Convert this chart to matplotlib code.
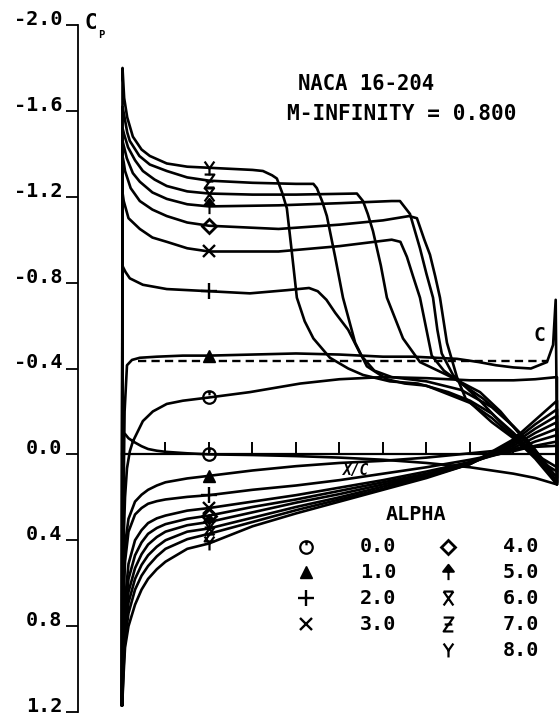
import numpy as np
import matplotlib.pyplot as plt
from matplotlib.path import Path

plt.rcParams['font.family'] = ['DejaVu Sans Mono', 'DejaVu Sans']
plt.rcParams['font.weight'] = 'bold'

W, H = 559, 718

alpha_labels = ["0.0", "1.0", "2.0", "3.0", "4.0", "5.0", "6.0", "7.0", "8.0"]
cp_ticks = [-2.0, -1.6, -1.2, -0.8, -0.4, 0.0, 0.4, 0.8, 1.2]
cp_tick_labels = ["-2.0", "-1.6", "-1.2", "-0.8", "-0.4", "0.0", "0.4", "0.8", "1.2"]
xc_ticks = [0.1, 0.2, 0.3, 0.4, 0.5, 0.6, 0.7, 0.8, 0.9, 1.0]
cp_star = -0.435
cp_star_x = [0.037, 0.977]
marker_xc = 0.2

# upper surface, one pair of lists per angle of attack
xu_a0 = [0, 0.003, 0.007, 0.0115, 0.018, 0.025, 0.048, 0.071, 0.103, 0.14, 0.2, 0.294, 0.41, 0.5, 0.6, 0.7, 0.8, 0.9, 0.95, 1.0]
cpu_a0 = [1.17, 0.45, 0.2, 0.065, -0.014, -0.06, -0.155, -0.2, -0.235, -0.25, -0.265, -0.29, -0.33, -0.35, -0.36, -0.355, -0.345, -0.345, -0.35, -0.36]

xu_a1 = [0, 0.003, 0.006, 0.0115, 0.023, 0.041, 0.08, 0.14, 0.2, 0.3, 0.4, 0.5, 0.6, 0.67, 0.72, 0.77, 0.82, 0.86, 0.9, 0.94, 0.977, 0.991, 0.997]
cpu_a1 = [1.17, 0.3, -0.2, -0.415, -0.44, -0.45, -0.455, -0.46, -0.46, -0.465, -0.47, -0.465, -0.455, -0.455, -0.45, -0.445, -0.43, -0.415, -0.405, -0.40, -0.43, -0.51, -0.72]

xu_a2 = [0, 0.001, 0.003, 0.008, 0.018, 0.048, 0.103, 0.2, 0.294, 0.38, 0.43, 0.45, 0.47, 0.49, 0.52, 0.55, 0.58, 0.62, 0.7, 0.78, 0.85, 0.9, 0.95, 1.0]
cpu_a2 = [1.17, -0.88, -0.87, -0.85, -0.82, -0.79, -0.77, -0.76, -0.75, -0.765, -0.775, -0.76, -0.72, -0.66, -0.58, -0.46, -0.39, -0.36, -0.34, -0.30, -0.22, -0.13, -0.02, 0.13]

xu_a3 = [0, 0.0012, 0.004, 0.015, 0.041, 0.07, 0.103, 0.15, 0.2, 0.36, 0.5, 0.6, 0.62, 0.64, 0.655, 0.669, 0.685, 0.70, 0.712, 0.74, 0.78, 0.83, 0.88, 0.93, 0.97, 1.0]
cpu_a3 = [1.17, -1.22, -1.18, -1.10, -1.05, -1.01, -0.99, -0.96, -0.945, -0.945, -0.97, -0.995, -1.0, -0.99, -0.92, -0.83, -0.73, -0.58, -0.46, -0.39, -0.33, -0.26, -0.17, -0.07, 0.03, 0.11]

xu_a4 = [0, 0.0012, 0.004, 0.007, 0.02, 0.041, 0.07, 0.103, 0.15, 0.2, 0.36, 0.5, 0.6, 0.66, 0.678, 0.695, 0.708, 0.72, 0.731, 0.747, 0.77, 0.79, 0.85, 0.9, 0.95, 1.0]
cpu_a4 = [1.17, -1.39, -1.36, -1.32, -1.24, -1.18, -1.14, -1.11, -1.08, -1.065, -1.05, -1.07, -1.09, -1.11, -1.10, -1.0, -0.93, -0.83, -0.73, -0.52, -0.36, -0.26, -0.15, -0.075, 0.0, 0.06]

xu_a5 = [0, 0.0012, 0.005, 0.011, 0.025, 0.041, 0.07, 0.103, 0.15, 0.2, 0.36, 0.5, 0.62, 0.639, 0.662, 0.685, 0.70, 0.715, 0.725, 0.735, 0.761, 0.823, 0.87, 0.92, 0.96, 1.0]
cpu_a5 = [1.17, -1.46, -1.43, -1.38, -1.31, -1.27, -1.22, -1.19, -1.165, -1.155, -1.16, -1.17, -1.18, -1.18, -1.12, -0.96, -0.84, -0.73, -0.58, -0.47, -0.37, -0.25, -0.15, -0.05, 0.03, 0.08]

xu_a6 = [0, 0.0012, 0.005, 0.014, 0.03, 0.048, 0.075, 0.103, 0.15, 0.2, 0.3, 0.4, 0.54, 0.554, 0.565, 0.577, 0.595, 0.609, 0.646, 0.685, 0.747, 0.823, 0.87, 0.92, 0.96, 1.0]
cpu_a6 = [1.17, -1.52, -1.49, -1.43, -1.37, -1.32, -1.28, -1.25, -1.225, -1.215, -1.21, -1.21, -1.215, -1.18, -1.12, -1.04, -0.88, -0.73, -0.54, -0.43, -0.37, -0.29, -0.20, -0.08, 0.02, 0.13]

xu_a7 = [0, 0.0012, 0.005, 0.012, 0.018, 0.04, 0.064, 0.103, 0.15, 0.2, 0.3, 0.4, 0.44, 0.448, 0.46, 0.471, 0.49, 0.508, 0.536, 0.563, 0.609, 0.65, 0.7, 0.75, 0.8, 0.85, 0.9, 0.95, 1.0]
cpu_a7 = [1.17, -1.62, -1.58, -1.50, -1.46, -1.39, -1.35, -1.32, -1.29, -1.275, -1.265, -1.26, -1.26, -1.24, -1.18, -1.11, -0.92, -0.73, -0.52, -0.41, -0.35, -0.33, -0.32, -0.28, -0.24, -0.17, -0.08, 0.02, 0.14]

xu_a8 = [0, 0.0012, 0.005, 0.012, 0.025, 0.045, 0.064, 0.103, 0.15, 0.2, 0.25, 0.3, 0.324, 0.345, 0.356, 0.368, 0.379, 0.39, 0.402, 0.42, 0.44, 0.478, 0.52, 0.554, 0.616, 0.68, 0.75, 0.8, 0.85, 0.9, 0.95, 1.0]
cpu_a8 = [1.17, -1.80, -1.66, -1.57, -1.48, -1.42, -1.39, -1.355, -1.34, -1.335, -1.33, -1.325, -1.32, -1.30, -1.285, -1.22, -1.146, -0.95, -0.73, -0.62, -0.54, -0.45, -0.40, -0.37, -0.34, -0.33, -0.29, -0.25, -0.19, -0.10, 0.0, 0.14]

# lower surface, common chord stations
xl = [0, 0.001, 0.003, 0.007, 0.015, 0.03, 0.045, 0.06, 0.08, 0.1, 0.15, 0.2, 0.3, 0.4, 0.5, 0.6, 0.7, 0.8, 0.9, 0.95, 1.0]
cpl_a0 = [1.17, 0.3, -0.10, -0.095, -0.075, -0.055, -0.038, -0.025, -0.017, -0.012, -0.005, 0.0, 0.003, 0.008, 0.015, 0.025, 0.04, 0.06, 0.09, 0.11, 0.14]
cpl_a1 = [1.17, 1.0, 0.62, 0.42, 0.30, 0.22, 0.188, 0.165, 0.145, 0.13, 0.112, 0.10, 0.075, 0.055, 0.04, 0.03, 0.015, -0.005, -0.025, -0.035, -0.04]
cpl_a2 = [1.17, 1.0, 0.72, 0.50, 0.36, 0.28, 0.25, 0.23, 0.218, 0.21, 0.198, 0.19, 0.165, 0.145, 0.12, 0.09, 0.06, 0.025, -0.015, -0.04, -0.06]
cpl_a3 = [1.17, 1.08, 0.88, 0.68, 0.51, 0.40, 0.353, 0.32, 0.298, 0.285, 0.262, 0.25, 0.22, 0.19, 0.155, 0.12, 0.08, 0.035, -0.02, -0.06, -0.09]
cpl_a4 = [1.17, 1.10, 0.93, 0.74, 0.58, 0.47, 0.41, 0.37, 0.343, 0.325, 0.30, 0.285, 0.245, 0.21, 0.17, 0.13, 0.09, 0.04, -0.03, -0.08, -0.12]
cpl_a5 = [1.17, 1.12, 0.96, 0.78, 0.64, 0.53, 0.465, 0.42, 0.385, 0.36, 0.33, 0.315, 0.27, 0.225, 0.185, 0.14, 0.095, 0.04, -0.04, -0.10, -0.15]
cpl_a6 = [1.17, 1.13, 0.99, 0.82, 0.69, 0.58, 0.515, 0.47, 0.43, 0.40, 0.36, 0.345, 0.295, 0.245, 0.20, 0.15, 0.10, 0.045, -0.05, -0.12, -0.18]
cpl_a7 = [1.17, 1.14, 1.02, 0.86, 0.74, 0.63, 0.565, 0.52, 0.475, 0.44, 0.395, 0.37, 0.315, 0.26, 0.21, 0.16, 0.105, 0.045, -0.06, -0.14, -0.21]
cpl_a8 = [1.17, 1.15, 1.05, 0.90, 0.80, 0.70, 0.63, 0.58, 0.535, 0.50, 0.44, 0.415, 0.335, 0.275, 0.22, 0.165, 0.11, 0.045, -0.07, -0.16, -0.25]

upper_x = [xu_a0, xu_a1, xu_a2, xu_a3, xu_a4, xu_a5, xu_a6, xu_a7, xu_a8]
upper_cp = [cpu_a0, cpu_a1, cpu_a2, cpu_a3, cpu_a4, cpu_a5, cpu_a6, cpu_a7, cpu_a8]
lower_cp = [cpl_a0, cpl_a1, cpl_a2, cpl_a3, cpl_a4, cpl_a5, cpl_a6, cpl_a7, cpl_a8]


# plotter style symbols
def sym(segments):
    verts, codes = [], []
    for seg in segments:
        for i, p in enumerate(seg):
            verts.append(p)
            codes.append(Path.MOVETO if i == 0 else Path.LINETO)
    return Path(verts, codes)


circ = Path.unit_circle()
m_circle = Path.make_compound_path(circ, sym([[(0, 1.0), (0, 0.35)]]))
m_arrow = Path.make_compound_path(
    Path([(-0.7, 0.1), (0, 1.0), (0.7, 0.1), (-0.7, 0.1)],
         [Path.MOVETO, Path.LINETO, Path.LINETO, Path.CLOSEPOLY]),
    sym([[(0, 0.1), (0, -1.0)]]))
m_xbar = sym([[(-0.7, 1), (0.7, 1)], [(-0.7, 1), (0.7, -1)], [(0.7, 1), (-0.7, -1)]])
m_z = sym([[(-0.7, 1), (0.7, 1), (-0.7, -1), (0.7, -1)], [(-0.55, 0), (0.55, 0)]])
m_y = sym([[(-0.7, 1), (0, 0), (0.7, 1)], [(0, 0), (0, -1)]])

marker_style = [
    dict(marker=m_circle, ms=9, mfc='none', mew=1.6),
    dict(marker='^', ms=8, mfc='k', mew=1.0),
    dict(marker='+', ms=11, mew=1.7),
    dict(marker='x', ms=9, mew=1.7),
    dict(marker='D', ms=7, mfc='none', mew=2.0),
    dict(marker=m_arrow, ms=11, mfc='k', mew=1.5),
    dict(marker=m_xbar, ms=10, mfc='none', mew=1.6),
    dict(marker=m_z, ms=10, mfc='none', mew=1.6),
    dict(marker=m_y, ms=10, mfc='none', mew=1.6),
]

fig = plt.figure(figsize=(W / 100, H / 100), dpi=100)
ax = fig.add_axes([78 / W, 6 / H, 481 / W, 687 / H])
ax.set_xlim(-0.1011, 1.0046)
ax.set_ylim(1.2, -2.0)
for s in ['top', 'right', 'bottom']:
    ax.spines[s].set_visible(False)
ax.spines['left'].set_linewidth(1.3)
ax.set_xticks([])
ax.set_yticks(cp_ticks)
ax.set_yticklabels(cp_tick_labels, fontsize=14.5)
ax.tick_params(axis='y', direction='out', length=8.6, width=1.3, pad=2.5)
for t in ax.get_yticklabels():
    t.set_va('baseline')

# x/c axis along Cp = 0
ax.plot([0, 1.0], [0, 0], color='k', lw=1.6)
ax.vlines(xc_ticks, 0, -0.056, colors='k', lw=1.4)

# critical pressure
ax.plot(cp_star_x, [cp_star, cp_star], color='k', lw=1.7, linestyle=(0, (3.5, 2.2)))

for xu, cpu, cpl, st in zip(upper_x, upper_cp, lower_cp, marker_style):
    xs = np.r_[xu, xl[::-1]]
    ys = np.r_[cpu, cpl[::-1]]
    ax.plot(xs, ys, color='k', lw=1.9, solid_joinstyle='round', solid_capstyle='round')
    yu = np.interp(marker_xc, xu, cpu)
    yl = np.interp(marker_xc, xl, cpl)
    ax.plot([marker_xc, marker_xc], [yu, yl], linestyle='none', color='k', **st)


def px(x, y):
    return x / W, 1 - y / H


fig.text(*px(84, 29), "C", fontsize=15, va='baseline', ha='left')
fig.text(*px(98, 38), "P", fontsize=7.5, va='baseline', ha='left')
fig.text(*px(298, 84), "NACA 16-204", fontsize=14.8, va='center', ha='left')
fig.text(*px(287, 114), "M-INFINITY = 0.800", fontsize=15.2, va='center', ha='left')
fig.text(*px(355, 470), "X/C", fontsize=10.5, va='center', ha='center', style='italic')
fig.text(*px(539, 335), "C", fontsize=14, va='center', ha='center')

# legend
fig.text(*px(416, 515), "ALPHA", fontsize=14.5, va='center', ha='center')
rows_y = [547, 572, 598, 624, 650]
for i, lab in enumerate(alpha_labels):
    if i < 4:
        sx, tx, ry = 306, 360, rows_y[i]
    else:
        sx, tx, ry = 448, 503, rows_y[i - 4]
    ax.plot(*px(sx, ry), linestyle='none', color='k', transform=fig.transFigure,
            clip_on=False, **marker_style[i])
    fig.text(*px(tx, ry), lab, fontsize=14.5, va='center', ha='left')

fig.savefig("out.png", dpi=100)
